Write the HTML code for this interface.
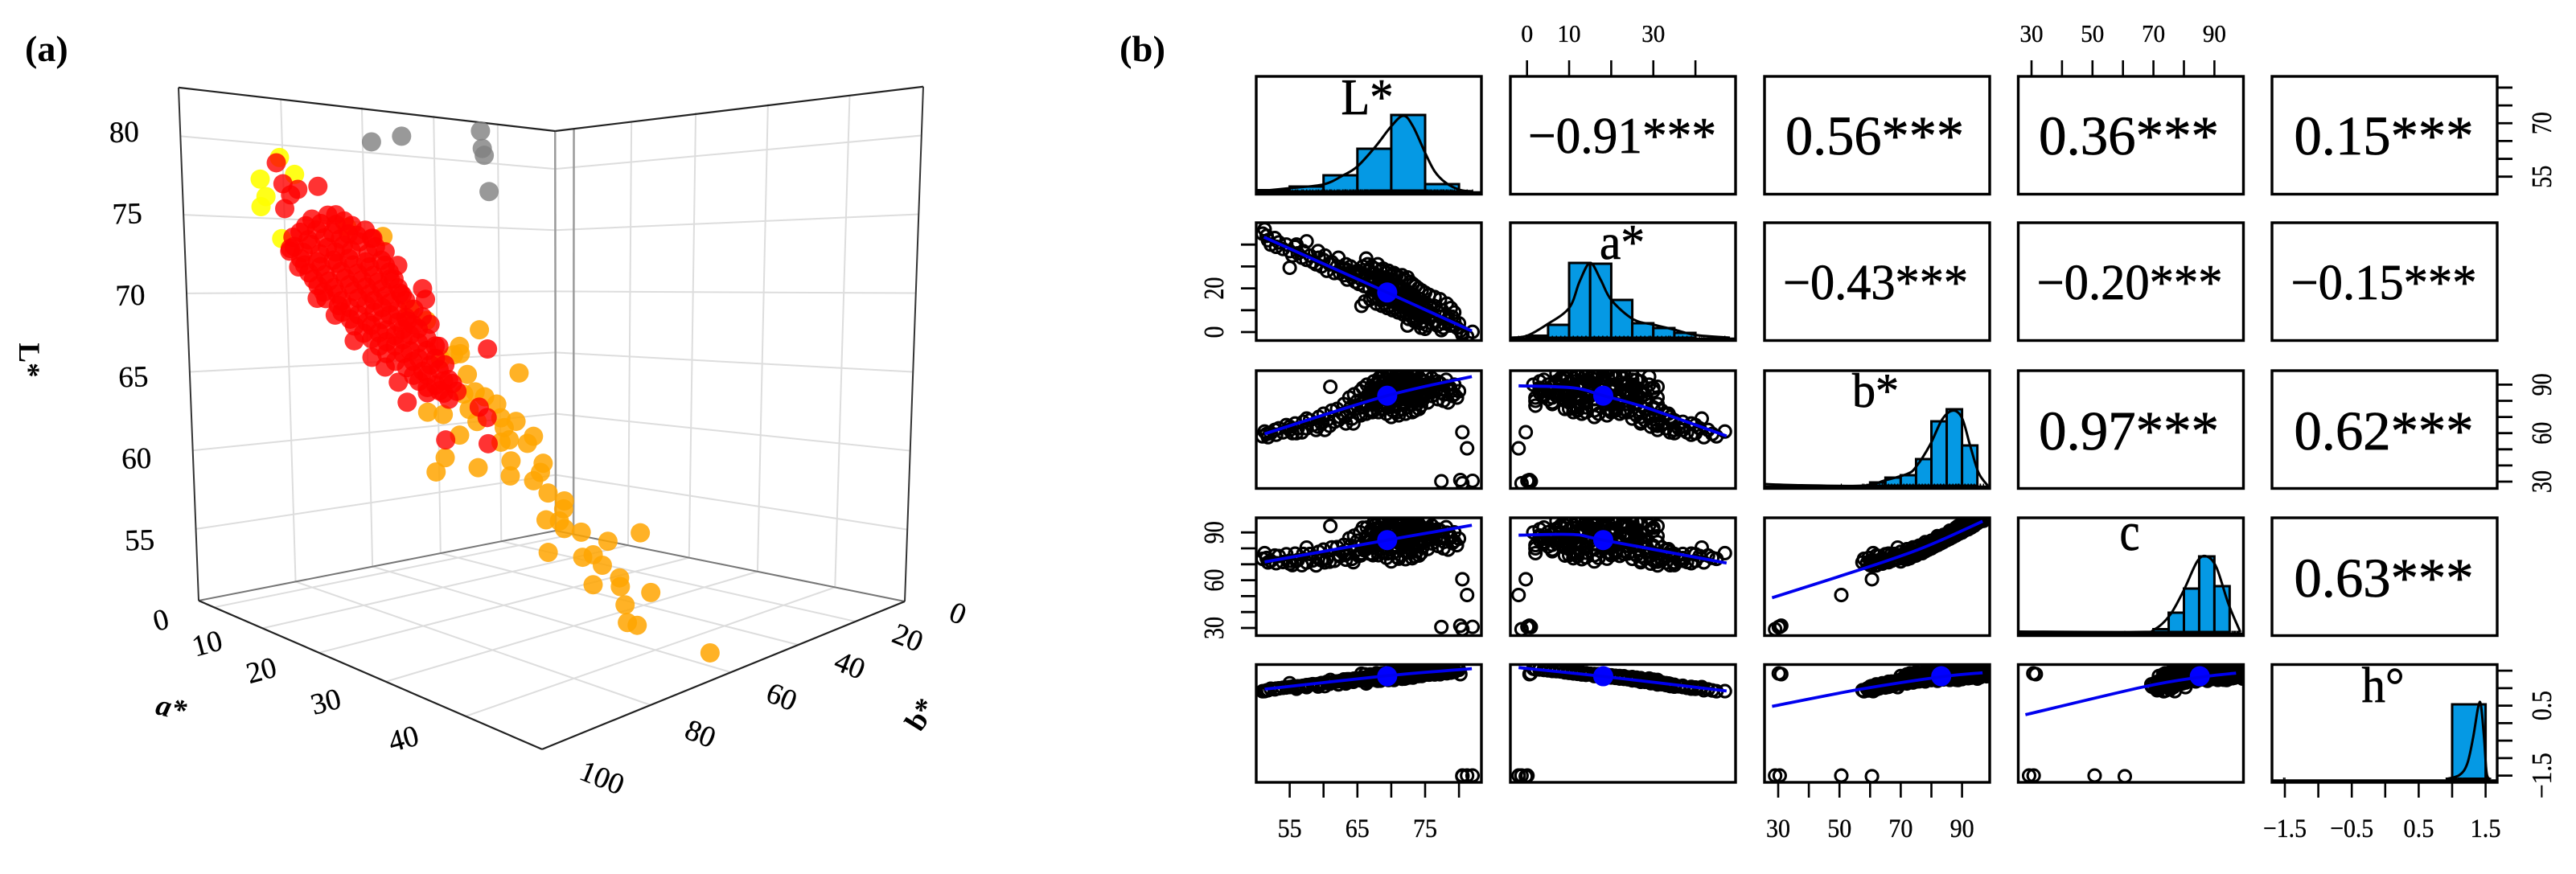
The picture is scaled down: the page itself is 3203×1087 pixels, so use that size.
<!DOCTYPE html>
<html lang="en">
<head>
<meta charset="utf-8">
<title>CIELAB colour scatter and correlation matrix</title>
<style>
html,body{margin:0;padding:0;background:#fff;}
svg{display:block;font-family:"Liberation Serif",serif;}
#pairs text{stroke:#000;stroke-width:.35px;}
#scatter3d text{stroke:#000;stroke-width:.3px;}
.heavy text{stroke:#000;stroke-width:.7px;}
</style>
</head>
<body>
<svg id="chart" width="3203" height="1087" viewBox="0 0 3203 1087">
  <rect x="0" y="0" width="3203" height="1087" fill="#fff"/>
  <text x="31" y="76" font-size="46" font-weight="bold">(a)</text>
  <text x="1392" y="76" font-size="46" font-weight="bold" textLength="57" lengthAdjust="spacingAndGlyphs">(b)</text>

  <g id="scatter3d"></g>
  <text transform="translate(24,448) rotate(90)" font-size="37" font-weight="bold" text-anchor="middle">L*</text>
  <text transform="translate(210,892) rotate(14)" font-size="37" font-weight="bold" font-style="italic" text-anchor="middle">a*</text>
  <text transform="translate(1155,895) rotate(-58)" font-size="37" font-weight="bold" text-anchor="middle">b*</text>

  <g id="pairs"></g>

  <g class="heavy" text-anchor="middle">
    <text x="2017" y="190" font-size="64" textLength="234" lengthAdjust="spacingAndGlyphs">−0.91***</text>
    <text x="2331" y="192" font-size="69" textLength="222" lengthAdjust="spacingAndGlyphs">0.56***</text>
    <text x="2647" y="192" font-size="69" textLength="224" lengthAdjust="spacingAndGlyphs">0.36***</text>
    <text x="2964" y="192" font-size="69" textLength="223" lengthAdjust="spacingAndGlyphs">0.15***</text>
    <text x="2332" y="372" font-size="62" textLength="230" lengthAdjust="spacingAndGlyphs">−0.43***</text>
    <text x="2648" y="372" font-size="62" textLength="231" lengthAdjust="spacingAndGlyphs">−0.20***</text>
    <text x="2964" y="372" font-size="62" textLength="231" lengthAdjust="spacingAndGlyphs">−0.15***</text>
    <text x="2647" y="559" font-size="69" textLength="224" lengthAdjust="spacingAndGlyphs">0.97***</text>
    <text x="2964" y="559" font-size="69" textLength="223" lengthAdjust="spacingAndGlyphs">0.62***</text>
    <text x="2964" y="742" font-size="69" textLength="223" lengthAdjust="spacingAndGlyphs">0.63***</text>
  </g>
  <g class="heavy" text-anchor="middle">
    <text x="1700" y="142" font-size="64" textLength="65" lengthAdjust="spacingAndGlyphs">L*</text>
    <text x="2017" y="322" font-size="62" textLength="56" lengthAdjust="spacingAndGlyphs">a*</text>
    <text x="2332" y="506" font-size="60" textLength="58" lengthAdjust="spacingAndGlyphs">b*</text>
    <text x="2648" y="684" font-size="68" textLength="25" lengthAdjust="spacingAndGlyphs">c</text>
    <text x="2963" y="873" font-size="62" textLength="53" lengthAdjust="spacingAndGlyphs">h°</text>
  </g>
</svg>
<script>
/* ---------- panel (a): 3D scatter values, read as [a*, b*, L*] ---------- */
const tickA3d = [0, 10, 20, 30, 40];
const tickB3d = [0, 20, 40, 60, 80, 100];
const gridB3d = [0, 20, 40, 60, 80];
const tickL3d = [55, 60, 65, 70, 75, 80];
const grayPoints = [[0,62.4,80.4],[0,54.4,81],[0,31.5,82],[0,31,80.7],[0,30.4,80.2],[0,29,77.5]];
const yellowPoints = [[9.2,95,78.3],[5.5,95,77.1],[6.5,95,76],[5.5,95,75.4],[9.2,95,73.4],[11.8,95,77.2]];
const orangePoints = [
[18.2,85,73.5],[12.4,85,74.1],[22.1,85,69.3],[24.5,85,68.7],[31.6,85,68.4],[29,85,67.4],[28.2,85,66.9],[26.4,85,66.6],
[29.1,85,67],[30,85,65.9],[29.5,85,64.8],[31,85,65],[32.2,85,64.8],[33.7,85,64.5],[30.2,85,64],[31.2,85,63.4],
[34.2,85,63.8],[24.5,85,63.5],[26.7,85,63.5],[28.9,85,62.5],[26.9,85,61.1],[25.6,85,60.2],[31.3,85,60.9],[35.4,85,61.6],
[35.3,85,60.8],[36.4,85,66.3],[34.6,85,63.3],[35.2,85,62.7],[34.2,85,62.5],
[19.2,55,61.8],[21.8,55,61],[20.9,55,60.5],[23.2,55,59.4],[22.8,55,58.8],[21.8,55,58.2],[23.9,55,57.6],[26.2,55,57.3],
[26.1,55,56.8],[23.6,55,55.9],[25.5,55,56],[26.2,55,55.6],[28.5,55,55.6],[23.9,55,53.9],[32,55,55.4],[36,55,56.3],
[28.7,55,54.1],[30.1,55,54.4],[31.3,55,53.9],[30.1,55,52.6],[33.5,55,53.4],[33.6,55,52.9],[37.3,55,53],[34.2,55,51.9],
[34.5,55,50.9],[35.7,55,50.9],[44,55,50.5]];
const redPoints = [
[8.6,95,78],[9.7,95,76.7],[11,95,76],[12.3,95,76.3],[15.7,95,76.4],[9.9,95,75.2],[10.7,95,72.8],[12.1,95,71.7],
[10.5,85,74.9],[16.6,85,73.4],[20.4,85,71.8],[24,85,70.5],[24.4,85,69.9],[32.6,85,67.4],[6.8,85,69.7],[10,85,68.7],
[13.2,85,67.2],[16.1,85,66.3],[18.2,85,65.8],[20.2,85,65],[21.5,85,63.9],[19.2,85,71],[20.7,85,70.2],[21.7,85,68.6],
[26.2,85,67.3],[27.5,85,65.5],[27.5,85,64.4],[31.5,85,64.2],[32.5,85,63.7],[27,85,62.1],[32.6,85,62.3],
[6.2,85,74.7],[9.1,85,74.9],[11.9,85,74.5],
[3.9,85,73.9],[7,85,74],[9.9,85,73.8],[12.6,85,73.7],[15.4,85,73.9],
[2.7,85,73],[5.9,85,73.1],[8.9,85,72.9],[11.7,85,73],[14.4,85,73.2],[17,85,72.9],
[3.9,85,72.2],[7,85,72],[9.9,85,72.1],[12.6,85,72.2],[15.4,85,72],[17.9,85,72.1],
[5.4,85,71.3],[8.4,85,71.2],[11.2,85,71.4],[14,85,71.3],[16.6,85,71.2],[19.1,85,71.4],
[7,85,70.5],[9.9,85,70.4],[12.6,85,70.6],[15.4,85,70.5],[17.9,85,70.4],[20.4,85,70.5],
[8.4,85,69.7],[11.2,85,69.6],[14,85,69.8],[16.6,85,69.7],[19.1,85,69.6],[21.5,85,69.8],
[11.2,85,68.9],[14,85,68.8],[16.6,85,69],[19.1,85,68.9],[21.5,85,68.8],[23.9,85,68.9],
[13.3,85,68.1],[16.1,85,68.2],[18.5,85,68],[21,85,68.1],[23.3,85,68.2],
[16.1,85,67.4],[18.5,85,67.3],[21,85,67.5],[23.3,85,67.4],[25.7,85,67.3],
[18.5,85,66.6],[21,85,66.7],[23.3,85,66.5],[25.7,85,66.6],
[21.5,85,65.9],[23.9,85,65.8],[26.2,85,66],
[23.3,85,65.2],[25.7,85,65.1],[28,85,65.3],
[24.5,85,64.6],[26.8,85,64.7],
[5,85,74.3],[7.8,85,74.4],[10.5,85,74.3],[13.2,85,74.2],
[2.5,85,73.6],[5.4,85,73.4],[8.4,85,73.5],[11.2,85,73.4],[14,85,73.6],[16.4,85,73.4],
[1.8,85,72.7],[4.4,85,72.6],[7.5,85,72.5],[10.3,85,72.6],[13,85,72.7],[15.8,85,72.5],[18.5,85,72.6],
[4.6,85,71.8],[7.6,85,71.7],[10.6,85,71.9],[13.3,85,71.8],[16,85,71.7],[18.5,85,71.8],
[6.2,85,70.9],[9,85,70.8],[11.9,85,71],[14.7,85,70.9],[17.3,85,70.8],[19.8,85,71],
[8,85,70.1],[10.5,85,70],[13.3,85,70.2],[16,85,70.1],[18.5,85,70],[21,85,70.1],
[10.6,85,69.3],[12.6,85,69.2],[15.3,85,69.4],[17.9,85,69.3],[20.3,85,69.2],[22.7,85,69.3],
[12.6,85,68.5],[15.4,85,68.4],[17.9,85,68.6],[20.3,85,68.5],[22.6,85,68.4],[25,85,68.5],
[14.8,85,67.7],[17.3,85,67.8],[19.8,85,67.7],[22.1,85,67.8],[24.5,85,67.7],
[17.3,85,67],[19.8,85,67.1],[22.1,85,66.9],[24.5,85,67],
[19.8,85,66.2],[22.5,85,66.3],[25,85,66.2],[27,85,66.3],
[22.5,85,65.5],[24.5,85,65.6],[26.8,85,65.4],
[24.5,85,64.9],[26.2,85,64.8],[28.6,85,64.9]];

/* ---------- panel (b): pairs matrix values, one array per variable ---------- */
const valuesL = [51,51.3,51.6,51.8,52.2,52.8,53,53.4,54,54.5,55,55.4,55.8,56.2,56.8,57,57.5,58,58.4,58.9,59.3,59.7,60,60.5,60.9,61.2,61.6,62,62.4,62.8,61,55,57.5,
63,63.2,63.5,63.8,64,64.2,64.5,64.7,65,65.2,65.4,65.6,65.8,66,66.2,66.4,66.6,66.8,67,67.2,67.4,67.5,67.7,67.9,68,68.1,65.6,66.3,
68.2,68.3,68.4,68.5,68.6,68.7,68.8,68.9,69,69.1,69.2,69.3,69.4,69.5,69.6,69.7,69.8,69.9,70,70.1,70.2,70.3,70.4,70.5,70.6,70.7,70.8,70.9,71,71.1,71.2,71.3,71.4,71.5,71.6,71.7,71.8,71.9,72,72.1,72.2,72.3,72.4,72.5,72.6,72.7,72.8,72.9,73,73.1,73.2,73.3,73.4,73.5,73.6,73.7,73.8,73.9,74,74.2,74.4,74.6,74.8,75,75.2,75.4,75.6,75.8,76,76.3,76.6,76.9,77.2,77.5,77.8,78.1,78.4,78.7,79,79.3,79.7,80,72.4,75,74.4,70,
66.1,66.5,66.9,67.1,67.3,67.6,67.8,68,68.2,68.4,68.6,68.8,69,69.2,69.4,69.6,69.8,70,70.2,70.4,70.6,70.8,71,71.2,71.4,71.6,71.8,72,72.2,72.4,72.6,72.8,73,73.2,73.4,73.6,73.8,74,74.3,74.5,74.7,75,75.3,75.6,76,76.4,76.8,77.2,77.7,78.2,78.8,79.3,69.3,70.9,72.1,73.1,74.1,68.1,67.2,65.5,64.4,63.3,59.2,56,62.2,60.2,
77.4,80.2,80.5,82,80.5,81.2];
const valuesA = [45,47,44,42,40,43,39,41,38,40,37,35,39,36,34,37,33,35,32,31,34,30,33,28,31,32,27,30,27,29,31,29.4,41.5,
26,29,24,27,30,25,26,23,28,22,27,24,30,21,26,24,28,20,25,22,27,19,24,21,26,18,12,33.6,
23,20,25,16,22,19,24,17,21,25,15,20,23,18,22,16,20,24,14,19,21,17,23,15,18,20,13,22,16,19,14,21,12,17,20,15,18,13,16,11,19,14,17,12,15,10,18,13,16,11,14,9,17,12,15,10,13,8,14,11,15,9,12,7,13,10,6,11,8,12,5,9,7,10,4,8,6,3,7,5,2,4,3,1.5,2,16,
14,31,15,30,16,29,13,31,15,28,12,29,13,27,11,28,12,26,10,27,11,26,9,25,10,26,8,24,9,25,6,23,7,22,5,21,6,20,4,19,5,18,3,17,4,16,3,15,2,13,11,9,17,14,13,11,9,20,23,26,27,31,37,40,34,35,
0.9,0.6,-1.3,0.1,-0.3,-2];
const valuesB = [58,61,59.5,57.5,60,62,59,63,60.5,65,62,60,66,63,60.5,67,63,68,65,62,70,66,72,68,64.5,74,67,75,70,72,88.7,64,69,
78,70,73,82,76,69,84,75,80,72,86,78,88,76,82,90,84,74,88,80,92,78,85,90,79,83,76,72,
94,86,89,81,96,75,84,91,87,93,85,78,98,89,82,95,90,86,83,99,74,88,91,92,80,96,87,85,93,71,97,89,84,100,79,90,94,81,87,92,98,76,84,95,89,86,91,99,78,88,93,83,96,74,86,91,97,85,80,94,90,88,83,92,96,79,89,85,94,90,86,81,91,87,84,93,79,88,83,90,82,86,85,90,77,70,
79,78,83,86,74,90,88,82,92,75,79,95,91,85,76,80,97,93,85,77,92,88,80,96,75,83,89,78,94,90,82,86,97,80,90,95,78,87,93,84,81,96,87,91,83,88,92,85,80,89,86,84,72,73,72,73,75,73,73,71,66,66,64,60,68,62,
30.2,31,29,30.5,60.6,50.6];
const valuesC = [73.4,77,74,71.2,72.1,75.5,70.7,75.2,71.4,76.3,72.2,69.5,76.7,72.6,69.4,76.5,71.1,76.5,72.4,69.3,77.8,72.5,79.2,73.5,71.6,80.6,72.2,80.8,75,77.6,94,70.4,80.5,
82.2,75.8,76.8,86.3,81.7,73.4,87.9,78.4,84.8,75.3,90.1,81.6,93,78.8,86,93.1,88.5,76.7,91.5,83,95.9,80.3,88.3,92.4,83.2,84.9,76.9,79.5,
96.8,88.3,92.4,82.6,98.5,77.4,87.4,92.6,89.5,96.3,86.3,80.5,100.7,90.8,84.9,96.3,92.2,89.3,84.2,100.8,76.9,89.6,93.9,93.2,82,98.1,88,87.8,94.4,73.5,98,91.4,84.9,101.4,81.5,91.2,95.7,82,88.5,92.7,99.8,77.3,85.7,95.8,90.3,86.6,92.8,99.8,79.6,88.7,94,83.5,97.5,75,87.3,91.5,97.9,85.4,81.2,94.6,91.2,88.5,83.9,92.3,96.9,79.6,89.2,85.7,94.3,90.8,86.1,81.5,91.3,87.6,84.1,93.3,79.2,88.1,83.3,90.1,82,86.1,85.1,90,77,71.8,
80.2,83.9,84.3,91.1,75.7,94.6,89,87.7,93.2,80.1,79.9,99.3,91.9,89.2,76.8,84.8,97.7,96.6,85.6,81.6,92.7,91.8,80.5,99.2,75.7,87,89.4,81.6,94.4,93.4,82.2,89,97.3,83,90.1,97.3,78.2,89.3,93.1,86.1,81.2,97.7,87.1,92.6,83.1,89.4,92,86.3,80,89.9,86.7,84.5,74,74.3,73.2,73.8,75.5,75.7,76.5,75.6,71.3,72.9,73.9,72.1,76,71.2,
30.6,31.4,29.2,30.7,60.6,50.7];
const valuesH = [0.911,0.914,0.934,0.94,0.983,0.965,0.987,0.994,1.01,1.019,1.033,1.043,1.037,1.052,1.059,1.066,1.088,1.095,1.113,1.107,1.119,1.144,1.141,1.18,1.123,1.162,1.188,1.19,1.203,1.188,1.234,1.14,1.03,
1.249,1.178,1.254,1.253,1.195,1.223,1.271,1.272,1.234,1.275,1.266,1.272,1.242,1.301,1.264,1.31,1.249,1.307,1.294,1.302,1.285,1.332,1.296,1.342,1.253,1.357,1.412,1.134,
1.331,1.342,1.297,1.376,1.346,1.323,1.293,1.386,1.334,1.308,1.396,1.32,1.341,1.371,1.309,1.404,1.352,1.299,1.404,1.381,1.294,1.38,1.323,1.409,1.35,1.365,1.422,1.317,1.4,1.309,1.427,1.34,1.429,1.402,1.323,1.406,1.382,1.411,1.389,1.452,1.379,1.389,1.371,1.445,1.404,1.455,1.376,1.44,1.369,1.446,1.421,1.463,1.395,1.41,1.398,1.461,1.438,1.477,1.397,1.454,1.406,1.469,1.427,1.495,1.436,1.445,1.503,1.442,1.486,1.438,1.513,1.46,1.494,1.456,1.523,1.485,1.495,1.537,1.487,1.515,1.546,1.524,1.535,1.554,1.545,1.346,
1.395,1.193,1.392,1.235,1.358,1.259,1.424,1.209,1.409,1.213,1.42,1.274,1.429,1.263,1.427,1.234,1.448,1.299,1.454,1.234,1.452,1.284,1.459,1.316,1.438,1.267,1.481,1.272,1.475,1.3,1.498,1.309,1.499,1.302,1.515,1.353,1.494,1.345,1.528,1.348,1.509,1.385,1.536,1.386,1.523,1.391,1.538,1.396,1.546,1.426,1.444,1.464,1.339,1.381,1.392,1.421,1.451,1.304,1.266,1.22,1.182,1.132,1.046,0.983,1.107,1.057,
1.42,1.4,-1.5,-1.5,-1.52,-1.5];
const variableMeans = [69.4, 18.1, 83.2, 85.2, 1.34];

/* histogram bin edges and relative bar heights */
const binEdgesL = [50,55,60,65,70,75,80];
const binHeightsL = [1.5,6,20,53,95,9];
const binEdgesA = [0,5,10,15,20,25,30,35,40];
const binHeightsA = [2.5,16,93,92,47,18,12,6];
const binEdgesB = [60,65,70,75,80,85,90,95];
const binHeightsB = [4,10,13,33,80,95,50];
const binEdgesC = [70,75,80,85,90,95];
const binHeightsC = [3.5,24,54,94,57];
const binEdgesH = [1,1.5];
const binHeightsH = [93];

/* density curves: [value, relative density] */
const densityL = [[50.2,0],[55,4],[60,8.7],[62.9,20],[65,31],[67.7,56],[70,81],[71.8,94],[73.2,81],[75,48],[76.4,25],[78,11],[80.1,2],[82.1,0]];
const densityA = [[-3.8,0],[0,2.5],[4.6,16],[10,37],[12.5,70],[15,93],[17.5,72],[20,47],[25.2,23],[30.2,16],[35,10],[40,3.4],[48.2,0]];
const densityB = [[25.5,2],[37.6,0.5],[57.7,0],[64.6,6.3],[72.2,14.7],[75.1,24],[79.6,51],[83.5,82.3],[87,93.3],[90,84],[92.7,49],[95.4,16],[98.4,0]];
const densityC = [[25.8,0.5],[64.4,0],[70.2,3],[75.4,21],[79.9,51.5],[84.4,88],[87.5,94],[90.7,80],[94.6,35],[98.5,0]];
const densityH = [[0.904,0],[1.108,5],[1.225,19],[1.313,51.5],[1.39,90],[1.43,92],[1.477,51.5],[1.517,7],[1.577,0]];

/* smooth fit lines: [x value, y value] */
const fitAonL = [[51.2,43.4],[69.2,18.4],[81.9,0.5]];
const fitBonL = [[51.3,59.6],[69.4,83.2],[81.9,95]];
const fitConL = [[51.3,71.5],[69.4,85.2],[81.9,94.5]];
const fitHonL = [[51.3,0.97],[69.4,1.355],[81.9,1.557]];
const fitBonA = [[-2,89.3],[11,88],[18.1,83.2],[28.5,75.6],[47.4,58.2]];
const fitConA = [[-2,88.3],[11,88.7],[18.1,85.2],[47.4,70.8]];
const fitHonA = [[-2,1.587],[18.1,1.335],[47.4,0.92]];
const fitConB = [[28,49],[56.9,66.7],[73.5,77.6],[83.2,85.2],[96.7,97]];
const fitHonB = [[28,0.48],[56.9,0.97],[83.2,1.325],[96.7,1.44]];
const fitHonC = [[28,0.24],[66.4,1.03],[85,1.31],[97.1,1.43]];

/* axis ticks and printed tick labels */
const ticksLvar = [55,60,65,70,75,80];
const ticksAvar = [0,10,20,30,40];
const ticksBvar = [30,40,50,60,70,80,90];
const ticksCvar = [30,40,50,60,70,80,90];
const ticksHvar = [-1.5,-1,-0.5,0,0.5,1,1.5];
const labelsTopA = [0,10,30];
const labelsTopC = [30,50,70,90];
const labelsRightL = [55,70];
const labelsRightB = [30,60,90];
const labelsRightH = [-1.5,0.5];
const labelsLeftA = [0,20];
const labelsLeftC = [30,60,90];
const labelsBottomL = [55,65,75];
const labelsBottomB = [30,50,70,90];
const labelsBottomH = [-1.5,-0.5,0.5,1.5];

/* ---------- helpers ---------- */
const NS = document.getElementById('chart').namespaceURI;
function mk(tag, attrs, parent) {
  const el = document.createElementNS(NS, tag);
  for (const k in attrs) el.setAttribute(k, attrs[k]);
  parent.appendChild(el);
  return el;
}
function smoothPath(pts) {
  let d = 'M' + pts[0][0] + ' ' + pts[0][1];
  for (let i = 0; i < pts.length - 1; i++) {
    const p0 = pts[Math.max(0, i - 1)], p1 = pts[i], p2 = pts[i + 1], p3 = pts[Math.min(pts.length - 1, i + 2)];
    const c1x = p1[0] + (p2[0] - p0[0]) / 6, c1y = p1[1] + (p2[1] - p0[1]) / 6;
    const c2x = p2[0] - (p3[0] - p1[0]) / 6, c2y = p2[1] - (p3[1] - p1[1]) / 6;
    d += ' C' + c1x + ' ' + c1y + ' ' + c2x + ' ' + c2y + ' ' + p2[0] + ' ' + p2[1];
  }
  return d;
}
function fmt(v) { return String(v).replace('-', '\u2212'); }

/* ---------- panel (a) axes ---------- */
const g3d = document.getElementById('scatter3d');
const aMin = -3.5, aMax = 48, bMax = 102, lMin = 50.44, lMax = 83.1;
function project(a, b, L) {
  const s = (a - aMin) / (aMax - aMin), r = b / bMax, t = (L - lMin) / (lMax - lMin);
  const w = 1 - 0.2636 * s - 0.262 * r;
  const X = (691 + 137.45 * s - 508.7 * r) / w;
  const Y = (660 - 109.2 * s - 108.7 * r) / w;
  const h = 1 / (0.002012 - 0.00045 * s - 0.000445 * r);
  return [X + 0.0547 * (X - 705) * t, Y - h * t];
}
function seg3d(p, q, stroke, width) {
  const A = project(p[0], p[1], p[2]), B = project(q[0], q[1], q[2]);
  return mk('line', {x1: A[0], y1: A[1], x2: B[0], y2: B[1], stroke: stroke, 'stroke-width': width}, g3d);
}
const gridColor = '#dddddd';
tickL3d.forEach(function (L) {
  const left = seg3d([aMin, bMax, L], [aMin, 0, L], gridColor, 2);
  
  
  const right = seg3d([aMin, 0, L], [aMax, 0, L], gridColor, 2);
  
  
});
gridB3d.forEach(function (b) {
  const wall = seg3d([aMin, b, lMin], [aMin, b, lMax], gridColor, 2);
  
  
  const floor = seg3d([aMin, b, lMin], [aMax, b, lMin], gridColor, 2);
  
  
});
tickA3d.forEach(function (a) {
  const wall = seg3d([a, 0, lMin], [a, 0, lMax], gridColor, 2);
  
  
  const floor = seg3d([a, 0, lMin], [a, bMax, lMin], gridColor, 2);
  
  
});
const backEdge = seg3d([aMin, 0, lMin], [aMin, 0, lMax], '#9a9a9a', 2.5);


const zeroEdge = seg3d([0, 0, lMin], [0, 0, lMax], '#9a9a9a', 2.5);


const backLeft = seg3d([aMin, bMax, lMin], [aMin, 0, lMin], '#777777', 2);


const backRight = seg3d([aMin, 0, lMin], [aMax, 0, lMin], '#777777', 2);


const topLeft = seg3d([aMin, bMax, lMax], [aMin, 0, lMax], '#222222', 2.2);


const topRight = seg3d([aMin, 0, lMax], [aMax, 0, lMax], '#222222', 2.2);


const leftEdge = seg3d([aMin, bMax, lMin], [aMin, bMax, lMax], '#333333', 2);


const rightEdge = seg3d([aMax, 0, lMin], [aMax, 0, lMax], '#333333', 2);


const frontLeft = seg3d([aMin, bMax, lMin], [aMax, bMax, lMin], '#222222', 2.2);


const frontRight = seg3d([aMax, bMax, lMin], [aMax, 0, lMin], '#222222', 2.2);



tickL3d.forEach(function (L) {
  const p = project(aMin, bMax, L);
  const t = mk('text', {transform: 'translate(' + (p[0] - 70) + ',' + (p[1] - 5 + (80 - L) * 0.76) + ') rotate(-2)', y: 12, 'font-size': 37, 'text-anchor': 'middle'}, g3d);
  t.textContent = fmt(L);
  
  
});
tickA3d.forEach(function (a) {
  const p = project(a, bMax, lMin);
  const t = mk('text', {transform: 'translate(' + (p[0] - 66 - 0.28 * a) + ',' + (p[1] + 16 + 0.3 * a) + ') rotate(-15)', y: 12, 'font-size': 37, 'text-anchor': 'middle'}, g3d);
  t.textContent = fmt(a);
  
  
});
tickB3d.forEach(function (b) {
  const p = project(aMax, b, lMin);
  const t = mk('text', {transform: 'translate(' + (p[0] + 66 - 0.05 * b) + ',' + (p[1] + 15 + 0.26 * b) + ') rotate(22)', y: 12, 'font-size': 37, 'text-anchor': 'middle'}, g3d);
  t.textContent = fmt(b);
  
  
});

const pointRadius = 12;
grayPoints.forEach(function (d) {
  const p = project(d[0], d[1], d[2]);
  const c = mk('circle', {cx: p[0], cy: p[1], r: pointRadius, fill: 'rgba(128,128,128,0.8)'}, g3d);
  
  
});
orangePoints.forEach(function (d) {
  const p = project(d[0], d[1], d[2]);
  const c = mk('circle', {cx: p[0], cy: p[1], r: pointRadius, fill: 'rgba(255,165,0,0.85)'}, g3d);
  
  
});
yellowPoints.forEach(function (d) {
  const p = project(d[0], d[1], d[2]);
  const c = mk('circle', {cx: p[0], cy: p[1], r: pointRadius, fill: 'rgba(255,255,0,0.9)'}, g3d);
  
  
});
redPoints.forEach(function (d) {
  const p = project(d[0], d[1], d[2]);
  const c = mk('circle', {cx: p[0], cy: p[1], r: pointRadius, fill: 'rgba(255,0,0,0.8)'}, g3d);
  
  
});

/* ---------- panel (b) axes ---------- */
const gPairs = document.getElementById('pairs');
const colLeft = [1562, 1878, 2194, 2509.5, 2825];
const rowTop = [95, 277, 461, 644, 826.5];
const panelW = 280, panelH = 146.5;
const xScale = [
  function (v) { return 1603.6 + (v - 55) * 8.42; },
  function (v) { return 1898.7 + v * 5.235; },
  function (v) { return 2211 + (v - 30) * 3.81; },
  function (v) { return 2526 + (v - 30) * 3.79; },
  function (v) { return 2841 + (v + 1.5) * 83.2; }
];
const yScale = [
  function (v) { return 219.7 - (v - 55) * 4.43; },
  function (v) { return 413 - v * 2.72; },
  function (v) { return 599 - (v - 30) * 2.01; },
  function (v) { return 781 - (v - 30) * 1.98; },
  function (v) { return 964.6 - (v + 1.5) * 43.5; }
];
const histBase = [238, 420, 604, 786, 969];
const allValues = [valuesL, valuesA, valuesB, valuesC, valuesH];
const allEdges = [binEdgesL, binEdgesA, binEdgesB, binEdgesC, binEdgesH];
const allHeights = [binHeightsL, binHeightsA, binHeightsB, binHeightsC, binHeightsH];
const allDensity = [densityL, densityA, densityB, densityC, densityH];
const fitTable = [[0,1,fitAonL],[0,2,fitBonL],[0,3,fitConL],[0,4,fitHonL],[1,2,fitBonA],[1,3,fitConA],[1,4,fitHonA],[2,3,fitConB],[2,4,fitHonB],[3,4,fitHonC]];

const defs = mk('defs', {}, gPairs);


for (let r = 0; r < 5; r++) {
  for (let c = 0; c < 5; c++) {
    const cp = mk('clipPath', {id: 'clip-' + r + '-' + c}, defs);
    
    
    const cr = mk('rect', {x: colLeft[c], y: rowTop[r], width: panelW, height: panelH}, cp);
    
    
  }
}

/* scatter panels */
fitTable.forEach(function (row) {
  const xi = row[0], yi = row[1], fit = row[2];
  const g = mk('g', {'clip-path': 'url(#clip-' + yi + '-' + xi + ')'}, gPairs);
  
  
  const X = xScale[xi], Y = yScale[yi];
  const dotBelow = (xi === 2 && yi === 3);
  function drawMean() {
    const m = mk('circle', {cx: X(variableMeans[xi]), cy: Y(variableMeans[yi]), r: 12.5, fill: '#0000ff'}, g);
    
    
  }
  if (dotBelow) drawMean();
  const n = Math.min(allValues[xi].length, allValues[yi].length);
  for (let i = 0; i < n; i++) {
    const c = mk('circle', {cx: X(allValues[xi][i]), cy: Y(allValues[yi][i]), r: 7.5, fill: 'none', stroke: '#000', 'stroke-width': 3.1}, g);
    
    
  }
  if (!dotBelow) drawMean();
  const path = mk('path', {d: smoothPath(fit.map(function (p) { return [X(p[0]), Y(p[1])]; })), fill: 'none', stroke: '#0000ee', 'stroke-width': 3.8}, g);
  
  
});

/* histogram panels */
for (let v = 0; v < 5; v++) {
  const g = mk('g', {'clip-path': 'url(#clip-' + v + '-' + v + ')'}, gPairs);
  
  
  const X = xScale[v], base = histBase[v], edges = allEdges[v], heights = allHeights[v];
  heights.forEach(function (h, i) {
    const bar = mk('rect', {x: X(edges[i]), y: base - h, width: X(edges[i + 1]) - X(edges[i]), height: h, fill: '#0599e4', stroke: '#000', 'stroke-width': 3}, g);
    
    
  });
  const bottom = rowTop[v] + panelH;
  const baseLine = mk('line', {x1: colLeft[v], y1: bottom - 2, x2: colLeft[v] + panelW, y2: bottom - 2, stroke: '#000', 'stroke-width': 3.5}, g);
  
  
  allValues[v].forEach(function (val) {
    const tick = mk('line', {x1: X(val), y1: bottom - 6, x2: X(val), y2: bottom, stroke: '#000', 'stroke-width': 1.2}, g);
    
    
  });
  const curve = mk('path', {d: smoothPath(allDensity[v].map(function (p) { return [X(p[0]), base - p[1]]; })), fill: 'none', stroke: '#000', 'stroke-width': 3}, g);
  
  
}

/* panel frames */
for (let r = 0; r < 5; r++) {
  for (let c = 0; c < 5; c++) {
    const f = mk('rect', {x: colLeft[c], y: rowTop[r], width: panelW, height: panelH, fill: 'none', stroke: '#000', 'stroke-width': 3.4}, gPairs);
    
    
  }
}

/* ticks and tick labels */
const labelLength = {1: 15, 2: 28, 3: 37, 4: 57};
const topLabelLength = {1: 15, 2: 29};
const bottomLabelLength = {2: 30, 3: 38, 4: 54};
function topAxis(col, ticks, labels) {
  const yEdge = rowTop[0];
  ticks.forEach(function (v) {
    const t = mk('line', {x1: xScale[col](v), y1: yEdge - 20, x2: xScale[col](v), y2: yEdge, stroke: '#000', 'stroke-width': 2.6}, gPairs);
    
    
  });
  labels.forEach(function (v) {
    const s = fmt(v);
    const t = mk('text', {x: xScale[col](v), y: 52, 'font-size': 31, 'text-anchor': 'middle', textLength: topLabelLength[s.length], lengthAdjust: 'spacingAndGlyphs'}, gPairs);
    t.textContent = s;
    
    
  });
}
function bottomAxis(col, ticks, labels) {
  const yEdge = rowTop[4] + panelH;
  ticks.forEach(function (v) {
    const t = mk('line', {x1: xScale[col](v), y1: yEdge, x2: xScale[col](v), y2: yEdge + 19, stroke: '#000', 'stroke-width': 2.6}, gPairs);
    
    
  });
  labels.forEach(function (v) {
    const s = fmt(v);
    const t = mk('text', {x: xScale[col](v), y: 1041, 'font-size': 33, 'text-anchor': 'middle', textLength: bottomLabelLength[s.length], lengthAdjust: 'spacingAndGlyphs'}, gPairs);
    t.textContent = s;
    
    
  });
}
function rightAxis(row, ticks, labels) {
  const xEdge = colLeft[4] + panelW;
  ticks.forEach(function (v) {
    const t = mk('line', {x1: xEdge, y1: yScale[row](v), x2: xEdge + 19, y2: yScale[row](v), stroke: '#000', 'stroke-width': 2.8}, gPairs);
    
    
  });
  labels.forEach(function (v) {
    const s = fmt(v);
    const t = mk('text', {transform: 'translate(3172,' + yScale[row](v) + ') rotate(-90)', 'font-size': 35, 'text-anchor': 'middle', textLength: labelLength[s.length], lengthAdjust: 'spacingAndGlyphs'}, gPairs);
    t.textContent = s;
    
    
  });
}
function leftAxis(row, ticks, labels) {
  const xEdge = colLeft[0];
  ticks.forEach(function (v) {
    const t = mk('line', {x1: xEdge - 19, y1: yScale[row](v), x2: xEdge, y2: yScale[row](v), stroke: '#000', 'stroke-width': 2.8}, gPairs);
    
    
  });
  labels.forEach(function (v) {
    const s = fmt(v);
    const t = mk('text', {transform: 'translate(1521,' + yScale[row](v) + ') rotate(-90)', 'font-size': 35, 'text-anchor': 'middle', textLength: labelLength[s.length], lengthAdjust: 'spacingAndGlyphs'}, gPairs);
    t.textContent = s;
    
    
  });
}
topAxis(1, ticksAvar, labelsTopA);
topAxis(3, ticksCvar, labelsTopC);
bottomAxis(0, ticksLvar, labelsBottomL);
bottomAxis(2, ticksBvar, labelsBottomB);
bottomAxis(4, ticksHvar, labelsBottomH);
rightAxis(0, ticksLvar, labelsRightL);
rightAxis(2, ticksBvar, labelsRightB);
rightAxis(4, ticksHvar, labelsRightH);
leftAxis(1, ticksAvar, labelsLeftA);
leftAxis(3, ticksCvar, labelsLeftC);
</script>
</body>
</html>
